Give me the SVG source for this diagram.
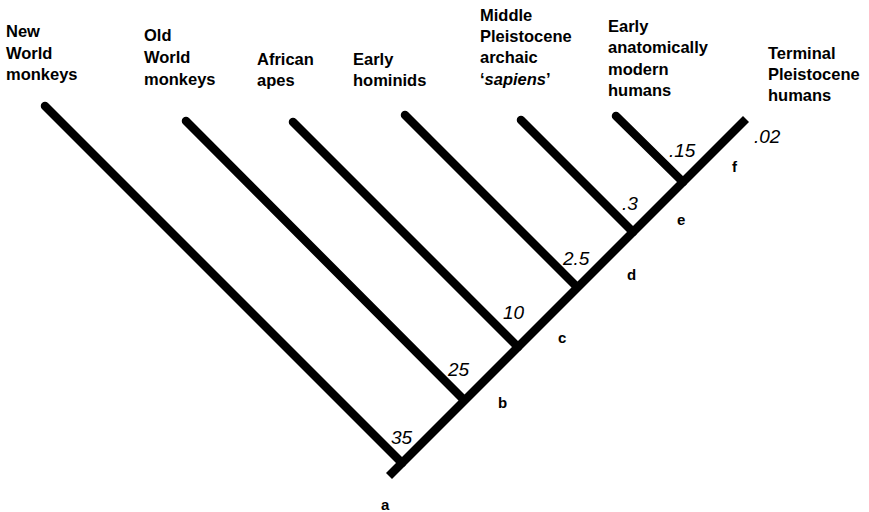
<svg xmlns="http://www.w3.org/2000/svg" width="869" height="512" viewBox="0 0 869 512">
  <style>
    .branch { stroke: #000; stroke-width: 8.5; stroke-linecap: round; fill: none; }
    .trunk { stroke: #000; stroke-width: 8.5; stroke-linecap: butt; fill: none; }
    .taxon { font-family: "Liberation Sans", Arial, sans-serif; font-size: 16.5px; font-weight: bold; fill: #000; }
    .age { font-family: "Liberation Sans", Arial, sans-serif; font-size: 19px; font-style: italic; fill: #000; }
    .node { font-family: "Liberation Sans", Arial, sans-serif; font-size: 15px; font-weight: bold; fill: #000; }
  </style>
  <rect width="869" height="512" fill="#fff"/>

  <!-- tree branches -->
  <g id="connectors">
    <line class="trunk" x1="389" y1="476" x2="746" y2="119"/>
    <line class="branch" x1="45" y1="106" x2="402" y2="463"/>
    <line class="branch" x1="186" y1="121" x2="464" y2="400"/>
    <line class="branch" x1="293" y1="122" x2="518" y2="347"/>
    <line class="branch" x1="405" y1="115" x2="577" y2="287"/>
    <line class="branch" x1="521" y1="120" x2="633" y2="232"/>
    <line class="branch" x1="616" y1="116" x2="683" y2="182"/>
  </g>

  <!-- terminal taxa -->
  <g id="new-world-monkeys">
    <text class="taxon" x="6" y="37">New</text>
    <text class="taxon" x="6" y="58.5">World</text>
    <text class="taxon" x="6" y="80">monkeys</text>
  </g>
  <g id="old-world-monkeys">
    <text class="taxon" x="144" y="41">Old</text>
    <text class="taxon" x="144" y="63">World</text>
    <text class="taxon" x="144" y="85">monkeys</text>
  </g>
  <g id="african-apes">
    <text class="taxon" x="257" y="65">African</text>
    <text class="taxon" x="257" y="86">apes</text>
  </g>
  <g id="early-hominids">
    <text class="taxon" x="353" y="65">Early</text>
    <text class="taxon" x="353" y="86">hominids</text>
  </g>
  <g id="middle-pleistocene-archaic-sapiens">
    <text class="taxon" x="480" y="20.5">Middle</text>
    <text class="taxon" x="480" y="41.5">Pleistocene</text>
    <text class="taxon" x="480" y="63">archaic</text>
    <text class="taxon" x="480" y="84.5">‘<tspan font-style="italic">sapiens</tspan>’</text>
  </g>
  <g id="early-anatomically-modern-humans">
    <text class="taxon" x="608" y="32">Early</text>
    <text class="taxon" x="608" y="53">anatomically</text>
    <text class="taxon" x="608" y="74.5">modern</text>
    <text class="taxon" x="608" y="96">humans</text>
  </g>
  <g id="terminal-pleistocene-humans">
    <text class="taxon" x="768" y="59">Terminal</text>
    <text class="taxon" x="768" y="80">Pleistocene</text>
    <text class="taxon" x="768" y="101">humans</text>
  </g>

  <!-- divergence ages -->
  <g id="ages">
    <text class="age" x="391" y="444">35</text>
    <text class="age" x="448" y="376">25</text>
    <text class="age" x="503" y="319">10</text>
    <text class="age" x="563" y="265">2.5</text>
    <text class="age" x="622" y="210">.3</text>
    <text class="age" x="669" y="157">.15</text>
    <text class="age" x="754" y="143">.02</text>
  </g>

  <!-- node letters -->
  <g id="node-a"><text class="node" x="381" y="510">a</text></g>
  <g id="node-b"><text class="node" x="498" y="408">b</text></g>
  <g id="node-c"><text class="node" x="558" y="343">c</text></g>
  <g id="node-d"><text class="node" x="627" y="280">d</text></g>
  <g id="node-e"><text class="node" x="677" y="225">e</text></g>
  <g id="node-f"><text class="node" x="732" y="172">f</text></g>
</svg>
